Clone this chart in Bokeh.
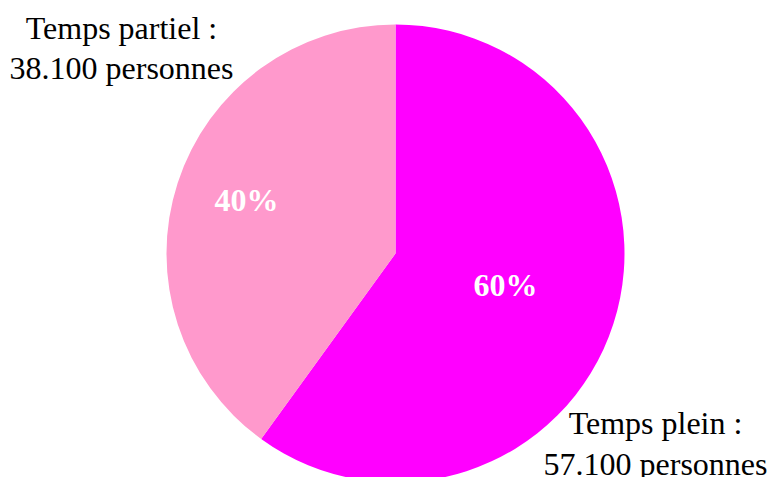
import numpy as np
from bokeh.plotting import figure
from bokeh.models import Range1d, ColumnDataSource
from bokeh.core.properties import value
from bokeh.embed import file_html
from bokeh.resources import INLINE

# Data
categories = ["Temps plein", "Temps partiel"]
persons = [57100, 38100]
percents = ["60%", "40%"]
colors = ["#FF00FF", "#FF99CC"]
labels_line1 = ["Temps plein :", "Temps partiel :"]
labels_line2 = ["57.100 personnes", "38.100 personnes"]

W, H = 770, 477
# data coords: x = picture x, y = -picture y
p = figure(width=W, height=H, output_backend="svg", toolbar_location=None,
           x_range=Range1d(0, W), y_range=Range1d(-H, 0),
           min_border=0)
p.axis.visible = False
p.grid.visible = False
p.outline_line_color = None
p.background_fill_color = "white"

cx, cy, R = 395, -253, 229
total = sum(persons)
fracs = np.array(persons) / total
ends = np.pi / 2 - 2 * np.pi * np.cumsum(fracs)
starts = np.concatenate([[np.pi / 2], ends[:-1]])
src = ColumnDataSource(dict(start=starts, end=ends, color=colors))
p.wedge(x=cx, y=cy, radius=R, start_angle="start", end_angle="end",
        direction="clock", fill_color="color", line_color=None, source=src)

# percentage labels
pct_x = [505, 246]
pct_y = [-284, -199]
p.text(x=pct_x, y=pct_y, text=percents, text_color="white",
       text_font=value("Liberation Serif"), text_font_style="bold",
       text_font_size="32px", text_align="center", text_baseline="alphabetic")

# outer labels
lab_x = [655, 121]
lab_y1 = [-422, -27]
lab_y2 = [-463, -67]
p.text(x=lab_x, y=lab_y1, text=labels_line1, text_color="black",
       text_font=value("Liberation Serif"), text_font_size="32px",
       text_align="center", text_baseline="alphabetic")
p.text(x=lab_x, y=lab_y2, text=labels_line2, text_color="black",
       text_font=value("Liberation Serif"), text_font_size="32px",
       text_align="center", text_baseline="alphabetic")

open("out.html", "w").write(file_html(p, INLINE))
